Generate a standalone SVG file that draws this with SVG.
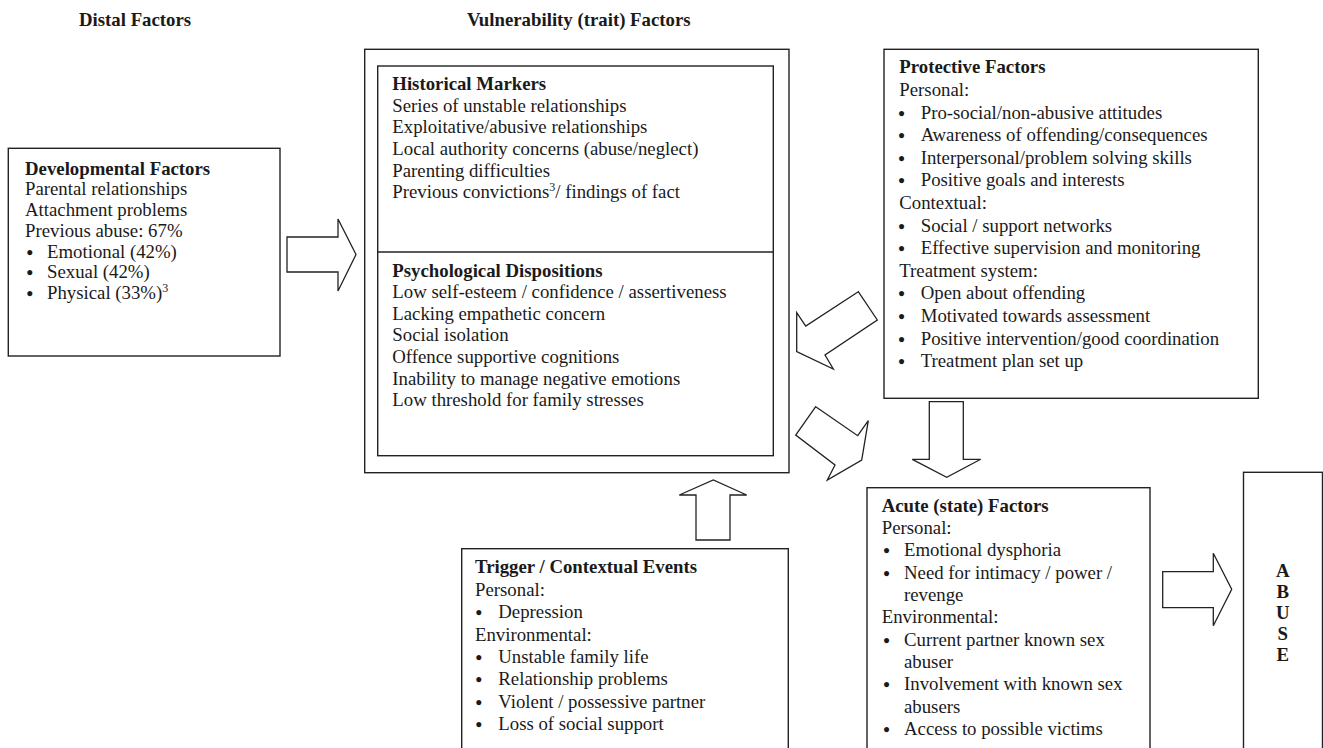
<svg xmlns="http://www.w3.org/2000/svg" width="1323" height="748" viewBox="0 0 1323 748">
<style>
text{font-family:"Liberation Serif","Times New Roman",serif;font-size:18.8px;fill:#1a1a1a}
.b{font-weight:bold}
.bu{font-size:18.8px;font-weight:bold}
.box{fill:#fff;stroke:#222;stroke-width:1.4}
.arr{fill:#fff;stroke:#222;stroke-width:1.3;stroke-linejoin:miter}
.sup{font-size:12px}
</style>
<rect width="1323" height="748" fill="#fff"/>
<g id="headings">
<text class="b" x="79" y="26">Distal Factors</text>
<text class="b" x="467" y="26">Vulnerability (trait) Factors</text>
</g>
<g id="developmental">
<rect class="box" x="8.3" y="148.3" width="271.7" height="207.7"/>
<text class="b" x="25" y="174.5">Developmental Factors</text>
<text x="25" y="195.3">Parental relationships</text>
<text x="25" y="216">Attachment problems</text>
<text x="25" y="236.8">Previous abuse: 67%</text>
<text class="bu" x="26.5" y="258.6">•</text><text x="47" y="257.6">Emotional (42%)</text>
<text class="bu" x="26.5" y="279.4">•</text><text x="47" y="278.4">Sexual (42%)</text>
<text class="bu" x="26.5" y="300.2">•</text><text x="47" y="299.2">Physical (33%)<tspan class="sup" dy="-7">3</tspan></text>
</g>
<g id="vulnerability">
<rect class="box" x="364.7" y="49.3" width="424.3" height="423.4"/>
<rect class="box" x="377.7" y="66" width="395.6" height="389.7"/>
<line x1="377.7" y1="252" x2="773.3" y2="252" stroke="#222" stroke-width="1.4"/>
<g id="historical">
<text class="b" x="392.3" y="90">Historical Markers</text>
<text x="392.3" y="111.7">Series of unstable relationships</text>
<text x="392.3" y="133.3">Exploitative/abusive relationships</text>
<text x="392.3" y="155">Local authority concerns (abuse/neglect)</text>
<text x="392.3" y="176.6">Parenting difficulties</text>
<text x="392.3" y="198.3">Previous convictions<tspan class="sup" dy="-7">3</tspan><tspan dy="7">/ findings of fact</tspan></text>
</g>
<g id="psychological">
<text class="b" x="392.3" y="276.7">Psychological Dispositions</text>
<text x="392.3" y="298.3">Low self-esteem / confidence / assertiveness</text>
<text x="392.3" y="320">Lacking empathetic concern</text>
<text x="392.3" y="341.3">Social isolation</text>
<text x="392.3" y="362.8">Offence supportive cognitions</text>
<text x="392.3" y="384.5">Inability to manage negative emotions</text>
<text x="392.3" y="406">Low threshold for family stresses</text>
</g>
</g>
<g id="protective">
<rect class="box" x="884" y="49.3" width="374.3" height="349"/>
<text class="b" x="899.3" y="73.3">Protective Factors</text>
<text x="899.3" y="95.9">Personal:</text>
<text class="bu" x="898.2" y="119.5">•</text><text x="920.7" y="118.5">Pro-social/non-abusive attitudes</text>
<text class="bu" x="898.2" y="142.1">•</text><text x="920.7" y="141.1">Awareness of offending/consequences</text>
<text class="bu" x="898.2" y="164.7">•</text><text x="920.7" y="163.7">Interpersonal/problem solving skills</text>
<text class="bu" x="898.2" y="187.3">•</text><text x="920.7" y="186.3">Positive goals and interests</text>
<text x="899.3" y="208.9">Contextual:</text>
<text class="bu" x="898.2" y="232.5">•</text><text x="920.7" y="231.5">Social / support networks</text>
<text class="bu" x="898.2" y="255.1">•</text><text x="920.7" y="254.1">Effective supervision and monitoring</text>
<text x="899.3" y="276.7">Treatment system:</text>
<text class="bu" x="898.2" y="300.3">•</text><text x="920.7" y="299.3">Open about offending</text>
<text class="bu" x="898.2" y="322.9">•</text><text x="920.7" y="321.9">Motivated towards assessment</text>
<text class="bu" x="898.2" y="345.5">•</text><text x="920.7" y="344.5">Positive intervention/good coordination</text>
<text class="bu" x="898.2" y="368.1">•</text><text x="920.7" y="367.1">Treatment plan set up</text>
</g>
<g id="trigger">
<rect class="box" x="461.7" y="548.7" width="326.6" height="220"/>
<text class="b" x="475" y="573.3">Trigger / Contextual Events</text>
<text x="475" y="595.7">Personal:</text>
<text class="bu" x="475.5" y="619.1">•</text><text x="498.3" y="618.1">Depression</text>
<text x="475" y="640.5">Environmental:</text>
<text class="bu" x="475.5" y="663.9">•</text><text x="498.3" y="662.9">Unstable family life</text>
<text class="bu" x="475.5" y="686.3">•</text><text x="498.3" y="685.3">Relationship problems</text>
<text class="bu" x="475.5" y="708.7">•</text><text x="498.3" y="707.7">Violent / possessive partner</text>
<text class="bu" x="475.5" y="731.1">•</text><text x="498.3" y="730.1">Loss of social support</text>
</g>
<g id="acute">
<rect class="box" x="867" y="487.7" width="283" height="280"/>
<text class="b" x="881.7" y="511.7">Acute (state) Factors</text>
<text x="881.7" y="534">Personal:</text>
<text class="bu" x="883.2" y="557.4">•</text><text x="904" y="556.4">Emotional dysphoria</text>
<text class="bu" x="883.2" y="579.7">•</text><text x="904" y="578.7">Need for intimacy / power /</text>
<text x="904" y="601">revenge</text>
<text x="881.7" y="623.3">Environmental:</text>
<text class="bu" x="883.2" y="646.7">•</text><text x="904" y="645.7">Current partner known sex</text>
<text x="904" y="668">abuser</text>
<text class="bu" x="883.2" y="691.3">•</text><text x="904" y="690.3">Involvement with known sex</text>
<text x="904" y="712.7">abusers</text>
<text class="bu" x="883.2" y="736">•</text><text x="904" y="735">Access to possible victims</text>
</g>
<g id="abuse">
<rect class="box" x="1243.5" y="472.3" width="79" height="300"/>
<g text-anchor="middle">
<text class="b" x="1282.7" y="576.5">A</text>
<text class="b" x="1282.7" y="597.7">B</text>
<text class="b" x="1282.7" y="618.9">U</text>
<text class="b" x="1282.7" y="640.1">S</text>
<text class="b" x="1282.7" y="661.3">E</text>
</g>
</g>
<g id="connectors">
<polygon class="arr" points="287,237 338,237 338,219 356,254.5 338,291 338,272 287,272"/>
<polygon class="arr" points="858.3,291.7 805.7,326 796.7,312.7 796.7,351.7 833.3,369 825,355 877.3,320"/>
<polygon class="arr" points="815.7,406.7 857.7,435.7 868.3,420.7 861.7,460 827.3,480 835,465 795.7,435"/>
<polygon class="arr" points="929.3,401.7 963.3,401.7 963.3,459.3 980.7,459.3 946.7,477.3 912.3,459.3 929.3,459.3"/>
<polygon class="arr" points="696,540 696,495 679.3,495 713.3,480 746.7,495 730,495 730,540"/>
<polygon class="arr" points="1162.7,571.7 1213.3,571.7 1213.3,553.3 1231.7,589.3 1213.3,625.7 1213.3,607.7 1162.7,607.7"/>
</g>
</svg>
